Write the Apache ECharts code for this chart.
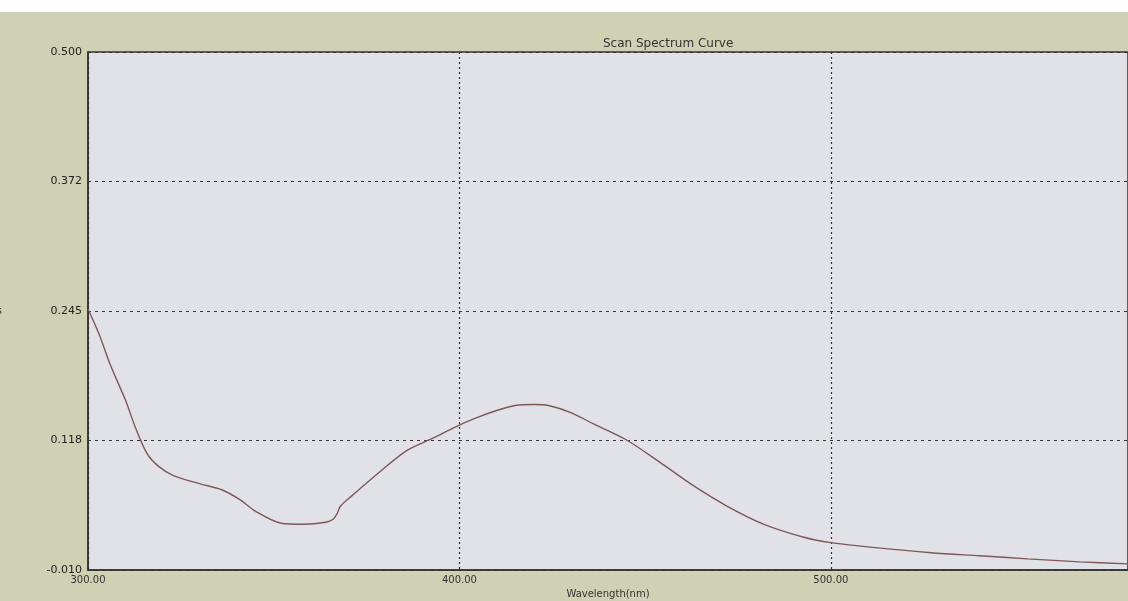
<!DOCTYPE html>
<html>
<head>
<meta charset="utf-8">
<script src="https://cdn.jsdelivr.net/npm/echarts@6/dist/echarts.min.js"></script>
<style>
html,body{margin:0;padding:0;background:#cfd0b4;}
#c{width:1128px;height:601px;}
</style>
</head>
<body>
<div id="c"></div>
<script>
const wavelengths = [300,303,306,310,313,316,319,323,330,336,341,345,352,358,364,366,367,368,371,379,386,393,399,404,410,415,420,424,430,436,445,454,463,472,482,493,500,512,527,540,553,567,580];
const absorbance  = [0.247,0.222,0.192,0.158,0.128,0.104,0.092,0.083,0.075,0.069,0.059,0.048,0.036,0.035,0.037,0.040,0.045,0.053,0.063,0.088,0.108,0.120,0.131,0.139,0.147,0.152,0.153,0.152,0.145,0.134,0.118,0.096,0.073,0.053,0.035,0.022,0.017,0.012,0.007,0.004,0.001,-0.002,-0.004];
const yTickValues = [-0.010,0.1175,0.245,0.3725,0.500];
const yTickLabels = ['-0.010','0.118','0.245','0.372','0.500'];
const xTickLabels = {300:'300.00',400:'400.00',500:'500.00'};

const chart = echarts.init(document.getElementById('c'));
chart.setOption({
  backgroundColor: '#cfd0b4',
  animation: false,
  title: {
    text: 'Scan Spectrum Curve',
    left: 598, top: 33,
    textStyle: {fontFamily: 'DejaVu Sans', fontSize: 12, fontWeight: 'normal', color: '#333'}
  },
  graphic: [
    {type: 'rect', left: 0, top: 0, shape: {width: 1128, height: 12}, style: {fill: '#ffffff'}}
  ],
  grid: {
    left: 88, right: 0, top: 52, bottom: 31,
    outerBoundsMode: 'none', containLabel: false,
    show: true, backgroundColor: '#e0e2e7', borderColor: '#333', borderWidth: 1.5
  },
  xAxis: {
    type: 'value', min: 300, max: 580, interval: 100,
    name: 'Wavelength(nm)', nameLocation: 'middle', nameGap: 18,
    nameTextStyle: {fontFamily: 'DejaVu Sans', fontSize: 10, color: '#333'},
    axisLine: {show: true, onZero: false, lineStyle: {color: '#333', width: 1.5}},
    axisTick: {show: false},
    axisLabel: {
      fontFamily: 'DejaVu Sans', fontSize: 10, color: '#333', margin: 5,
      showMaxLabel: false,
      formatter: v => xTickLabels[Math.round(v)] || ''
    },
    splitLine: {show: true, lineStyle: {color: '#333', type: [2, 3], width: 1.2}}
  },
  yAxis: {
    type: 'value', min: -0.010, max: 0.500, interval: 0.1275,
    name: 'Abs', nameLocation: 'middle', nameGap: 86, nameRotate: 0,
    nameTextStyle: {fontFamily: 'DejaVu Sans', fontSize: 10, color: '#333'},
    axisLine: {show: true, onZero: false, lineStyle: {color: '#333', width: 1.5}},
    axisTick: {show: false},
    axisLabel: {
      fontFamily: 'DejaVu Sans', fontSize: 11, color: '#222', margin: 6,
      formatter: v => {
        let best = 0, bd = 1e9;
        yTickValues.forEach((t, i) => { const d = Math.abs(t - v); if (d < bd) { bd = d; best = i; } });
        return yTickLabels[best];
      }
    },
    splitLine: {show: true, lineStyle: {color: '#333', type: [3, 4], width: 1.2}}
  },
  series: [{
    type: 'line',
    data: wavelengths.map((w, i) => [w, absorbance[i]]),
    smooth: 0.3,
    showSymbol: false,
    lineStyle: {color: '#7e5858', width: 1.4}
  }]
});
</script>
</body>
</html>
